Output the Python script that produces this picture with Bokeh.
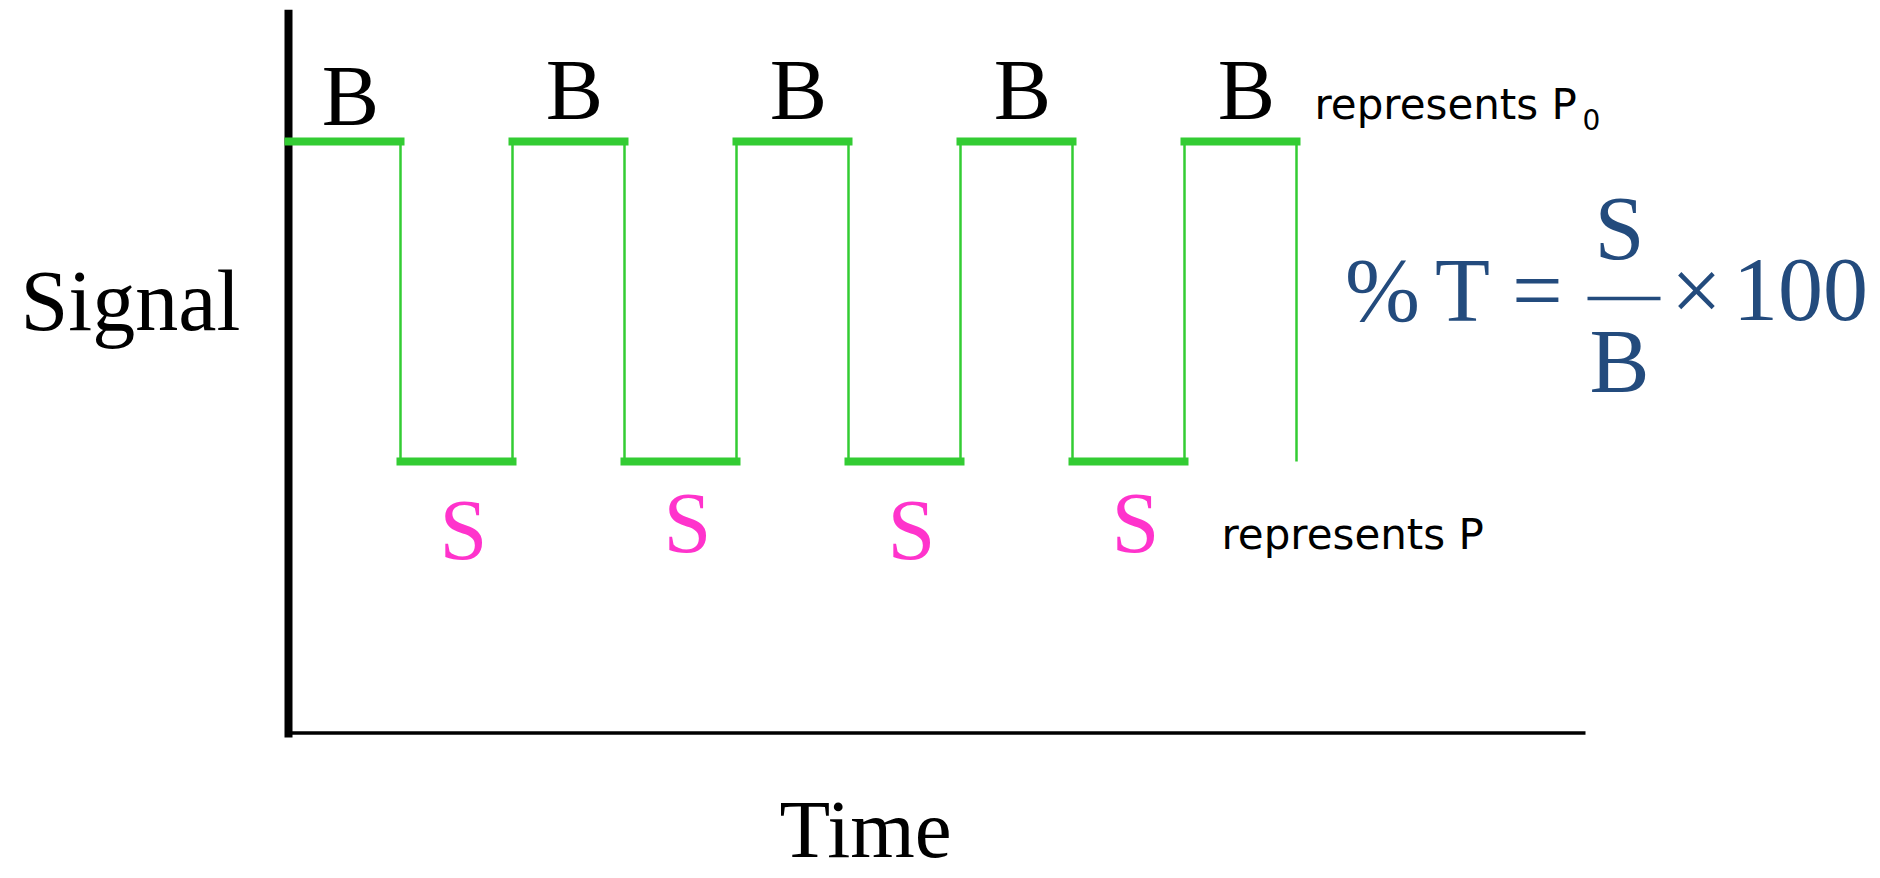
from bokeh.plotting import figure
from bokeh.models import Range1d
from bokeh.core.properties import value
from bokeh.embed import file_html
from bokeh.resources import INLINE

# ---------------- data ----------------
time_edges = [0, 1, 2, 3, 4, 5, 6, 7, 8, 9]          # half-period boundaries (time units)
level_names = ["B", "S", "B", "S", "B", "S", "B", "S", "B"]  # level held over each interval
signal_levels = {"B": 1.0, "S": 0.459}                 # blank (P0) and sample (P) signal
final_level = "S"                                      # signal drops after the last edge
y_label = "Signal"
x_label = "Time"
blank_note = "represents P"
blank_sub = "0"
sample_note = "represents P"
formula_parts = ["%", "T", "=", "S", "B", "\u00d7", "100"]

# ---------------- layout (page pixels -> data) ----------------
W, H = 1880, 878
T0_PAGE, PX_PER_T = 288.0, 112.0
S0_PAGE, PX_PER_S = 732.5, 591.5
BASE_FIX = 0.37   # renderer puts the alphabetic baseline this many ems low


def tx(page_x):
    return (page_x - T0_PAGE) / PX_PER_T


def sy(page_y):
    return (S0_PAGE - page_y) / PX_PER_S


def base(page_y, size):
    return sy(page_y - BASE_FIX * size)


p = figure(width=W, height=H,
           x_range=Range1d(tx(0), tx(W)), y_range=Range1d(sy(H), sy(0)),
           output_backend="svg", toolbar_location=None,
           x_axis_type=None, y_axis_type=None, min_border=0)
p.outline_line_color = None
p.background_fill_color = "white"
p.border_fill_color = "white"

GREEN = "#33CC33"
MAGENTA = "#FF33CC"
NAVY = "#234B7D"
SERIF = value("Liberation Serif")
SANS = value("DejaVu Sans")

# axes drawn as plain lines
p.segment(x0=[0], y0=[sy(737)], x1=[0], y1=[sy(9.3)], line_color="black", line_width=8)
p.segment(x0=[0], y0=[0], x1=[tx(1585)], y1=[0], line_color="black", line_width=3.5)

# waveform
vals = [signal_levels[n] for n in level_names]
p.segment(x0=time_edges[:-1], y0=vals, x1=time_edges[1:], y1=vals,
          line_color=GREEN, line_width=8, line_cap="square")
after = vals[1:] + [signal_levels[final_level]]
p.segment(x0=time_edges[1:], y0=vals, x1=time_edges[1:], y1=after,
          line_color=GREEN, line_width=2.5)

# B / S labels
LS = 86
mids = [(a + b) / 2 for a, b in zip(time_edges[:-1], time_edges[1:])]
b_gap = [14, 20, 20, 20, 20]       # px above the blank level
s_gap = [100, 93, 100, 93]         # px below the sample level
bx, by, sx_, sy_ = [], [], [], []
bi = si = 0
for m, n in zip(mids, level_names):
    if n == "B":
        bx.append(m + 6 / PX_PER_T)
        by.append(signal_levels["B"] + (b_gap[bi] + BASE_FIX * LS) / PX_PER_S)
        bi += 1
    else:
        sx_.append(m + 7 / PX_PER_T)
        sy_.append(signal_levels["S"] - (s_gap[si] - BASE_FIX * LS) / PX_PER_S)
        si += 1
p.text(x=bx, y=by, text=["B"] * len(bx), text_font=SERIF, text_font_size=f"{LS}px",
       text_color="black", text_align="center", text_baseline="alphabetic")
p.text(x=sx_, y=sy_, text=["S"] * len(sx_), text_font=SERIF, text_font_size=f"{LS}px",
       text_color=MAGENTA, text_align="center", text_baseline="alphabetic")

# axis titles
p.text(x=[tx(20)], y=[base(332, 86)], text=[y_label], text_font=SERIF, text_font_size="86px",
       text_color="black", text_align="left", text_baseline="alphabetic")
p.text(x=[tx(865)], y=[base(859, 83)], text=[x_label], text_font=SERIF, text_font_size="83px",
       text_color="black", text_align="center", text_baseline="alphabetic")

# notes
p.text(x=[tx(1314)], y=[base(120, 42)], text=[blank_note], text_font=SANS, text_font_size="42px",
       text_color="black", text_align="left", text_baseline="alphabetic")
p.text(x=[tx(1582)], y=[base(129, 28)], text=[blank_sub], text_font=SANS, text_font_size="28px",
       text_color="black", text_align="left", text_baseline="alphabetic")
p.text(x=[tx(1221)], y=[base(550, 42)], text=[sample_note], text_font=SANS, text_font_size="42px",
       text_color="black", text_align="left", text_baseline="alphabetic")

# formula  %T = S/B x 100
fx = [1382, 1462, 1537, 1619, 1619, 1696, 1800]
fy = [323, 323, 323, 261, 394, 323, 323]
p.text(x=[tx(v) for v in fx], y=[base(v, 90) for v in fy], text=formula_parts,
       text_font=SERIF, text_font_size="90px", text_color=NAVY,
       text_align="center", text_baseline="alphabetic")
p.segment(x0=[tx(1587)], y0=[sy(298)], x1=[tx(1660)], y1=[sy(298)],
          line_color=NAVY, line_width=3.5)

open("out.html", "w").write(file_html(p, INLINE))
